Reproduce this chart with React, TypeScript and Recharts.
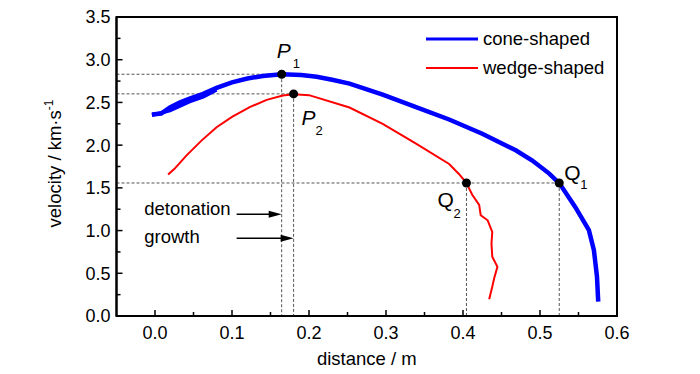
import {
  Legend,
  Line,
  LineChart,
  ReferenceArea,
  ReferenceDot,
  ReferenceLine,
  XAxis,
  YAxis,
  Label,
} from "recharts";

const FONT = "'Liberation Sans', Arial, Helvetica, sans-serif";

// cone-shaped charge: distance (m) vs velocity (km/s)
const coneDistance = [
  -0.004, 0.008, 0.0194, 0.032, 0.045, 0.0626, 0.08, 0.1, 0.12, 0.14, 0.1645, 0.19, 0.21, 0.23,
  0.2526, 0.2957, 0.339, 0.382, 0.425, 0.4685, 0.49, 0.512, 0.5255, 0.5457, 0.5635, 0.57, 0.574,
  0.5756,
];
const coneVelocity = [
  2.36, 2.37, 2.44, 2.5, 2.545, 2.6, 2.67, 2.735, 2.78, 2.81, 2.83, 2.82, 2.8, 2.765, 2.72, 2.59,
  2.445, 2.3, 2.134, 1.94, 1.82, 1.667, 1.55, 1.277, 1.005, 0.771, 0.46, 0.167,
];
// lower edge of the wide, noisy start of the cone trace
const coneEdgeDistance = [-0.004, 0.0194, 0.045, 0.0626, 0.08];
const coneEdgeVelocity = [2.35, 2.405, 2.51, 2.565, 2.645];

// wedge-shaped charge
const wedgeDistance = [
  0.017, 0.025, 0.041, 0.06, 0.08, 0.1, 0.123, 0.145, 0.166, 0.18, 0.2, 0.2526, 0.2957, 0.339,
  0.382, 0.395, 0.4045, 0.412, 0.421, 0.423, 0.432, 0.438, 0.437, 0.438, 0.4447, 0.4404, 0.438,
  0.434,
];
const wedgeVelocity = [
  1.655, 1.72, 1.88, 2.05, 2.21, 2.33, 2.445, 2.53, 2.58, 2.595, 2.585, 2.44, 2.25, 2.017, 1.78,
  1.66, 1.555, 1.42, 1.3, 1.18, 1.12, 0.985, 0.85, 0.693, 0.576, 0.44, 0.342, 0.195,
];

// marked points
const P1 = { x: 0.1645, y: 2.83 };
const P2 = { x: 0.18, y: 2.6 };
const Q1 = { x: 0.525, y: 1.557 };
const Q2 = { x: 0.4045, y: 1.557 };

const xTicks = [0, 0.05, 0.1, 0.15, 0.2, 0.25, 0.3, 0.35, 0.4, 0.45, 0.5, 0.55, 0.6];
const yTicks = [
  0, 0.25, 0.5, 0.75, 1, 1.25, 1.5, 1.75, 2, 2.25, 2.5, 2.75, 3, 3.25, 3.5,
];

const zip = (xs: number[], ys: number[]) => xs.map((x, i) => ({ x, v: ys[i] }));
const coneData = zip(coneDistance, coneVelocity);
const coneEdge = zip(coneEdgeDistance, coneEdgeVelocity);
const wedgeData = zip(wedgeDistance, wedgeVelocity);

const isMajor = (v: number, step: number) => Math.abs(v / step - Math.round(v / step)) < 1e-6;

const XTick = (props: any) => {
  const { x, y, payload } = props;
  const major = isMajor(payload.value, 0.1);
  return (
    <g>
      <line x1={x} x2={x} y1={y} y2={y - (major ? 6 : 4)} stroke="#000" strokeWidth={1.5} />
      {major && (
        <text x={x} y={y + 23} textAnchor="middle" fontSize={18} fontFamily={FONT} fill="#000">
          {payload.value.toFixed(1)}
        </text>
      )}
    </g>
  );
};

const YTick = (props: any) => {
  const { x, y, payload } = props;
  const major = isMajor(payload.value, 0.5);
  return (
    <g>
      <line x1={x} x2={x + (major ? 6 : 4)} y1={y} y2={y} stroke="#000" strokeWidth={1.5} />
      {major && (
        <text x={x - 6} y={y} dy="0.36em" textAnchor="end" fontSize={18} fontFamily={FONT} fill="#000">
          {payload.value.toFixed(1)}
        </text>
      )}
    </g>
  );
};

// dot with a letter and a subscript; offsets in px from the dot
const markedDot =
  (letter: string, sub: string, dx: number, dy: number, sdx: number, sdy: number, italic: boolean) =>
  (props: any) => {
    const { cx, cy } = props;
    return (
      <g>
        <circle cx={cx} cy={cy} r={4.5} fill="#000" />
        <text x={cx + dx} y={cy + dy} fontFamily={FONT} fill="#000" fontSize={21}>
          <tspan fontStyle={italic ? "italic" : "normal"}>{letter}</tspan>
          <tspan x={cx + sdx} y={cy + sdy} fontSize={13}>
            {sub}
          </tspan>
        </text>
      </g>
    );
  };

const arrowHead = (props: any) => {
  const { cx, cy } = props;
  return <polygon points={`${cx},${cy} ${cx - 13},${cy - 3.5} ${cx - 13},${cy + 3.5}`} fill="#000" />;
};

const note = (txt: string) => (props: any) => {
  const { cx, cy } = props;
  return (
    <text x={cx} y={cy} dy="0.35em" fontSize={18.5} fontFamily={FONT} fill="#000">
      {txt}
    </text>
  );
};

const legendItems = [
  { name: "cone-shaped", color: "#0000ff", width: 3 },
  { name: "wedge-shaped", color: "#ff0000", width: 2 },
];

const LegendBox = () => (
  <div style={{ fontFamily: FONT, fontSize: 18.5, color: "#000" }}>
    {legendItems.map((it) => (
      <div key={it.name} style={{ display: "flex", alignItems: "center", height: 29 }}>
        <svg width={52} height={8} style={{ marginRight: 5 }}>
          <line x1={0} x2={52} y1={4} y2={4} stroke={it.color} strokeWidth={it.width} />
        </svg>
        <span>{it.name}</span>
      </div>
    ))}
  </div>
);

const DASH = { stroke: "#555", strokeWidth: 1, strokeDasharray: "3 2" };

export default function App() {
  return (
    <div style={{ position: "absolute", left: 0, top: 0, background: "#fff" }}>
      <LineChart width={700} height={374} margin={{ top: 17, right: 83, bottom: 0, left: 0 }}>
        <XAxis
          dataKey="x"
          type="number"
          domain={[-0.05, 0.6]}
          ticks={xTicks}
          interval={0}
          tickSize={0}
          tickMargin={0}
          tickLine={false}
          tick={<XTick />}
          axisLine={{ stroke: "#000", strokeWidth: 2 }}
          height={58}
          allowDataOverflow
        >
          <Label
            content={(p: any) => {
              const vb = p.viewBox;
              return (
                <text x={vb.x + vb.width / 2} y={vb.y + 49} textAnchor="middle" fontSize={18.5} fontFamily={FONT} fill="#000">
                  distance / m
                </text>
              );
            }}
          />
        </XAxis>
        <YAxis
          type="number"
          domain={[0, 3.5]}
          ticks={yTicks}
          interval={0}
          tickSize={0}
          tickMargin={0}
          tickLine={false}
          tick={<YTick />}
          axisLine={{ stroke: "#000", strokeWidth: 2 }}
          width={116.5}
          allowDataOverflow
        >
          <Label
            content={(p: any) => {
              const vb = p.viewBox;
              const cx = vb.x + 55;
              const cy = vb.y + vb.height / 2 - 3;
              return (
                <text
                  x={cx}
                  y={cy}
                  dy="0.35em"
                  textAnchor="middle"
                  fontSize={18.5}
                  fontFamily={FONT}
                  fill="#000"
                  transform={`rotate(-90, ${cx}, ${cy})`}
                >
                  velocity / km·s
                  <tspan dy={-8} fontSize={12}>
                    -1
                  </tspan>
                </text>
              );
            }}
          />
        </YAxis>

        <ReferenceArea x1={-0.05} x2={0.6} y1={0} y2={3.5} fill="none" stroke="#000" strokeWidth={2} />

        {/* guide lines */}
        <ReferenceLine segment={[{ x: -0.05, y: P1.y }, { x: P1.x, y: P1.y }]} {...DASH} />
        <ReferenceLine segment={[{ x: -0.05, y: P2.y }, { x: P2.x, y: P2.y }]} {...DASH} />
        <ReferenceLine segment={[{ x: -0.05, y: Q1.y }, { x: Q1.x, y: Q1.y }]} {...DASH} />
        <ReferenceLine segment={[{ x: P1.x, y: P1.y }, { x: P1.x, y: 0 }]} {...DASH} />
        <ReferenceLine segment={[{ x: P2.x, y: P2.y }, { x: P2.x, y: 0 }]} {...DASH} />
        <ReferenceLine segment={[{ x: Q1.x, y: Q1.y }, { x: Q1.x, y: 0 }]} {...DASH} />
        <ReferenceLine segment={[{ x: Q2.x, y: Q2.y }, { x: Q2.x, y: 0 }]} {...DASH} />

        <Line
          data={coneEdge}
          dataKey="v"
          stroke="#0000ff"
          strokeWidth={3.5}
          dot={false}
          activeDot={false}
          isAnimationActive={false}
          legendType="none"
        />
        <Line
          data={coneData}
          dataKey="v"
          name="cone-shaped"
          stroke="#0000ff"
          strokeWidth={4.5}
          dot={false}
          activeDot={false}
          isAnimationActive={false}
        />
        <Line
          data={wedgeData}
          dataKey="v"
          name="wedge-shaped"
          stroke="#ff0000"
          strokeWidth={2}
          dot={false}
          activeDot={false}
          isAnimationActive={false}
        />

        {/* detonation / growth arrows */}
        <ReferenceLine segment={[{ x: 0.106, y: 1.19 }, { x: 0.155, y: 1.19 }]} stroke="#000" strokeWidth={1.5} />
        <ReferenceLine segment={[{ x: 0.106, y: 0.91 }, { x: 0.171, y: 0.91 }]} stroke="#000" strokeWidth={1.5} />
        <ReferenceDot x={P1.x} y={1.19} r={1} shape={arrowHead} />
        <ReferenceDot x={P2.x} y={0.91} r={1} shape={arrowHead} />
        <ReferenceDot x={-0.014} y={1.26} r={1} shape={note("detonation")} />
        <ReferenceDot x={-0.014} y={0.935} r={1} shape={note("growth")} />

        <ReferenceDot x={P1.x} y={P1.y} r={4.5} shape={markedDot("P", "1", -5, -16, 11, -6, true)} />
        <ReferenceDot x={P2.x} y={P2.y} r={4.5} shape={markedDot("P", "2", 8, 31, 22, 41, true)} />
        <ReferenceDot x={Q1.x} y={Q1.y} r={4.5} shape={markedDot("Q", "1", 5, -3, 21, 6, false)} />
        <ReferenceDot x={Q2.x} y={Q2.y} r={4.5} shape={markedDot("Q", "2", -29, 24, -13, 35, false)} />

        <Legend
          layout="horizontal"
          verticalAlign="middle"
          align="center"
          content={<LegendBox />}
          wrapperStyle={{ top: 24.5, left: 426, width: "auto", height: "auto" }}
        />
      </LineChart>
    </div>
  );
}
